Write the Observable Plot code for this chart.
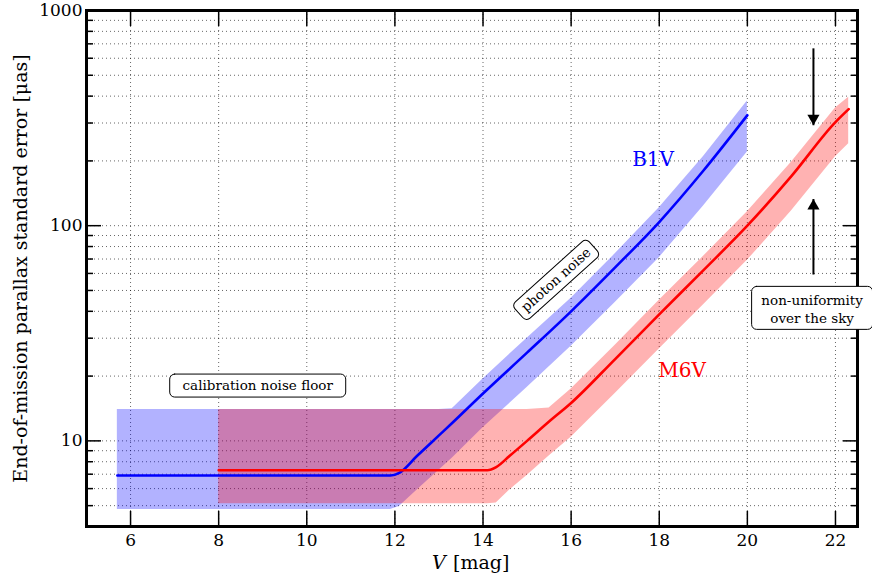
<!DOCTYPE html>
<html>
<head>
<meta charset="utf-8">
<script src="https://cdn.jsdelivr.net/npm/d3@7"></script>
<script src="https://cdn.jsdelivr.net/npm/@observablehq/plot@0.6"></script>
<style>
  html, body { margin: 0; padding: 0; background: white; }
</style>
</head>
<body>
<div id="chart"></div>
<script>
// ---- data ----
const blueV     = [5.7, 11.9, 12.1, 12.5, 13, 13.3, 14, 15, 16, 17, 18, 19, 20];
const blueErr   = [6.9, 6.9, 7.1, 8.5, 10.6, 12.1, 16.6, 25.7, 40, 64, 104, 180, 326];
const blueUpper = [14, 14, 14, 14, 14, 14.1, 19.4, 30, 46, 74, 121, 209, 380];
const blueLower = [4.8, 4.8, 4.95, 5.9, 7.3, 8.3, 11.5, 17.7, 27.5, 44, 71, 123, 220];

const redV     = [8, 14.1, 14.3, 14.6, 15, 15.5, 16, 17, 18, 19, 20, 21, 22, 22.3];
const redErr   = [7.3, 7.3, 7.55, 8.5, 10, 12.3, 15, 24, 38.7, 62, 100, 170, 303, 348];
const redUpper = [14, 14, 14, 14, 14, 14.2, 17.4, 27.8, 45, 72, 116, 197, 352, 395];
const redLower = [5.1, 5.1, 5.15, 5.9, 6.9, 8.5, 10.4, 16.6, 26.7, 42.8, 69, 117, 209, 240];

const xTicks = [6, 8, 10, 12, 14, 16, 18, 20, 22];
const yMajor = [10, 100, 1000];
const yMinor = [5, 6, 7, 8, 9, 20, 30, 40, 50, 60, 70, 80, 90, 200, 300, 400, 500, 600, 700, 800, 900];

// annotations (data coordinates)
const seriesLabels = ["B1V", "M6V"];
const seriesLabelV = [17.86, 18.52];
const seriesLabelY = [202, 21.3];
const boxTexts = ["calibration noise floor", "photon noise", "non-uniformity\nover the sky"];
const boxV = [8.886, 15.66, 21.47];
const boxY = [18.07, 56.0, 41.5];
const arrowV = [21.5, 21.5];
const arrowTail = [667, 59.3];
const arrowTip = [293, 133];

// ---- tables ----
const blue = blueV.map((v, i) => ({V: v, err: blueErr[i], hi: blueUpper[i], lo: blueLower[i]}));
const red = redV.map((v, i) => ({V: v, err: redErr[i], hi: redUpper[i], lo: redLower[i]}));
const labels = seriesLabels.map((t, i) => ({t, V: seriesLabelV[i], y: seriesLabelY[i]}));
const boxes = boxTexts.map((t, i) => ({t, V: boxV[i], y: boxY[i]}));
const arrows = arrowV.map((v, i) => ({V: v, tail: arrowTail[i], tip: arrowTip[i]}));

function roundedBox(w, h, r) {
  return {
    draw(ctx) {
      const x0 = -w / 2, y0 = -h / 2, x1 = w / 2, y1 = h / 2;
      ctx.moveTo(x0 + r, y0);
      ctx.lineTo(x1 - r, y0);
      ctx.arcTo(x1, y0, x1, y0 + r, r);
      ctx.lineTo(x1, y1 - r);
      ctx.arcTo(x1, y1, x1 - r, y1, r);
      ctx.lineTo(x0 + r, y1);
      ctx.arcTo(x0, y1, x0, y1 - r, r);
      ctx.lineTo(x0, y0 + r);
      ctx.arcTo(x0, y0, x0 + r, y0, r);
      ctx.closePath();
    }
  };
}

const font = "DejaVu Serif";
const gridStyle = {stroke: "#000", strokeOpacity: 0.6, strokeWidth: 1, strokeDasharray: "1,3"};

const chart = Plot.plot({
  width: 872,
  height: 578,
  marginLeft: 86,
  marginRight: 15,
  marginTop: 10,
  marginBottom: 52,
  style: {fontFamily: font, background: "white", color: "black"},
  x: {domain: [5, 22.5]},
  y: {type: "log", domain: [4, 1000]},
  marks: [
    Plot.gridX(xTicks, gridStyle),
    Plot.gridY(yMinor.concat(yMajor), gridStyle),
    Plot.areaY(blue, {x: "V", y1: "lo", y2: "hi", fill: "#0000ff", fillOpacity: 0.3}),
    Plot.areaY(red, {x: "V", y1: "lo", y2: "hi", fill: "#ff0000", fillOpacity: 0.3}),
    Plot.line(blue, {x: "V", y: "err", stroke: "#0000ff", strokeWidth: 2.6, curve: "monotone-x"}),
    Plot.line(red, {x: "V", y: "err", stroke: "#ff0000", strokeWidth: 2.6, curve: "monotone-x"}),
    // ticks (inward)
    Plot.axisX(xTicks, {anchor: "bottom", tickSize: -15, strokeWidth: 1.5, tickFormat: () => "", label: null}),
    Plot.axisX(xTicks, {anchor: "top", tickSize: -15, strokeWidth: 1.5, tickFormat: () => "", label: null}),
    Plot.axisY(yMajor, {anchor: "left", tickSize: -15, strokeWidth: 1.5, tickFormat: () => "", label: null}),
    Plot.axisY(yMajor, {anchor: "right", tickSize: -15, strokeWidth: 1.5, tickFormat: () => "", label: null}),
    Plot.axisY(yMinor, {anchor: "left", tickSize: -7, strokeWidth: 1.5, tickFormat: () => "", label: null}),
    Plot.axisY(yMinor, {anchor: "right", tickSize: -7, strokeWidth: 1.5, tickFormat: () => "", label: null}),
    // tick labels
    Plot.axisX(xTicks, {anchor: "bottom", tickSize: 0, tickPadding: 7, fontSize: 17, tickFormat: d => String(d), label: null}),
    Plot.axisY(yMajor, {anchor: "left", tickSize: 0, tickPadding: 4, fontSize: 17, tickFormat: d => String(d), label: null}),
    // axis titles
    Plot.text(["End-of-mission parallax standard error [μas]"], {text: d => d, frameAnchor: "left", rotate: -90, dx: -66, textAnchor: "middle", lineAnchor: "middle", fontSize: 19}),
    Plot.text(["V"], {text: d => d, frameAnchor: "bottom", dy: 36, dx: -40, textAnchor: "start", lineAnchor: "middle", fontSize: 19, fontStyle: "italic"}),
    Plot.text(["[mag]"], {text: d => d, frameAnchor: "bottom", dy: 36, dx: -19, textAnchor: "start", lineAnchor: "middle", fontSize: 19}),
    // series labels
    Plot.text(labels, {x: "V", y: "y", text: "t", fill: (d) => d.t === "B1V" ? "#0000ff" : "#ff0000", fontSize: 20}),
    // frame
    Plot.frame({stroke: "black", strokeWidth: 3}),
    // arrows
    Plot.link(arrows, {x1: "V", x2: "V", y1: "tail", y2: "tip", stroke: "black", strokeWidth: 2}),
    Plot.dot(arrows.filter(d => d.tip < d.tail), {x: "V", y: "tip", symbol: "triangle", r: 4.5, fill: "black", stroke: "none", rotate: 180, dy: -7}),
    Plot.dot(arrows.filter(d => d.tip > d.tail), {x: "V", y: "tip", symbol: "triangle", r: 4.5, fill: "black", stroke: "none", dy: 7}),
    // annotation boxes
    Plot.vector([boxes[0]], {x: "V", y: "y", length: 1, anchor: "start", shape: roundedBox(176, 23, 5), fill: "white", stroke: "black", strokeWidth: 1}),
    Plot.vector([boxes[1]], {x: "V", y: "y", length: 1, anchor: "start", rotate: -42, shape: roundedBox(100, 22, 5), fill: "white", stroke: "black", strokeWidth: 1}),
    Plot.vector([boxes[2]], {x: "V", y: "y", length: 1, anchor: "start", shape: roundedBox(121, 43, 5), fill: "white", stroke: "black", strokeWidth: 1}),
    Plot.text([boxes[0]], {x: "V", y: "y", text: "t", fontSize: 13.5}),
    Plot.text([boxes[1]], {x: "V", y: "y", text: "t", fontSize: 13.5, rotate: -42}),
    Plot.text([boxes[2]], {x: "V", y: "y", text: "t", fontSize: 13.5, lineHeight: 1.33})
  ]
});
document.getElementById("chart").appendChild(chart);
</script>
</body>
</html>
